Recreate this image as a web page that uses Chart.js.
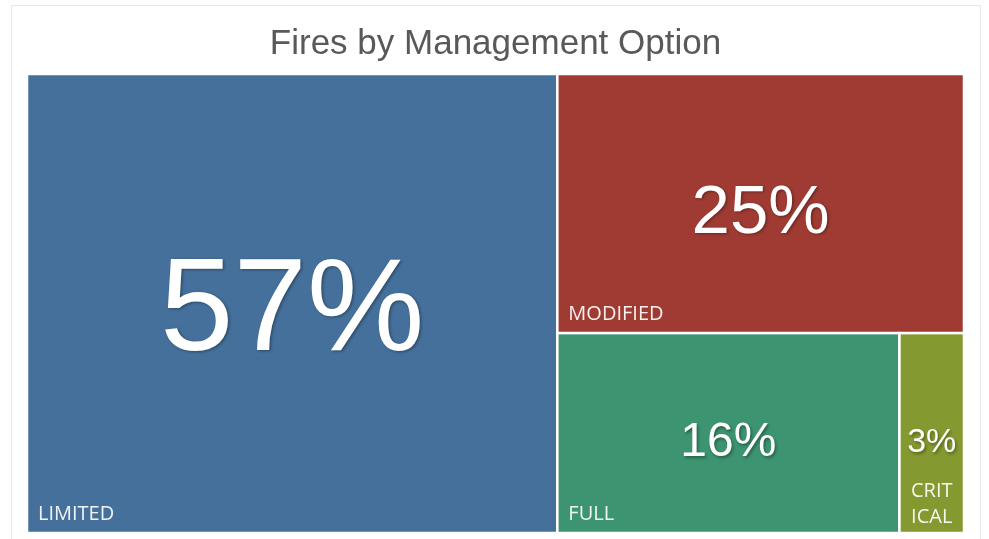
<!DOCTYPE html>
<html>
<head>
<meta charset="utf-8">
<script src="https://cdn.jsdelivr.net/npm/chart.js@4/dist/chart.umd.min.js"></script>
<style>
  html, body { margin: 0; padding: 0; background: #ffffff; }
  #wrap { width: 989px; height: 539px; position: relative; }
</style>
</head>
<body>
<div id="wrap"><canvas id="c" width="989" height="539"></canvas></div>
<script>
// ---- data ----
const chartTitle = 'Fires by Management Option';
const categories = ['LIMITED', 'MODIFIED', 'FULL', 'CRITICAL'];
const shares = [56.6, 24.5, 15.9, 3.0];          // share of fires, %
// ---- styles ----
const cellColors = ['#44709b', '#a03b33', '#3d9471', '#84992f'];
const pctFontSizes = [132, 69, 48, 34];

function worst(row, s) {
  let sum = 0, mx = -Infinity, mn = Infinity;
  row.forEach(r => { sum += r.a; mx = Math.max(mx, r.a); mn = Math.min(mn, r.a); });
  return Math.max(s * s * mx / (sum * sum), (sum * sum) / (s * s * mn));
}

function squarify(values, W, H) {
  const total = values.reduce((a, b) => a + b, 0);
  let items = values.map((v, i) => ({ i, a: v * W * H / total }));
  let x = 0, y = 0, w = W, h = H;
  const out = [];
  while (items.length) {
    const s = Math.min(w, h);
    let row = [items[0]];
    let k = 1;
    while (k < items.length && worst(row.concat([items[k]]), s) <= worst(row, s)) {
      row.push(items[k]); k++;
    }
    items = items.slice(k);
    const rowArea = row.reduce((a, r) => a + r.a, 0);
    if (w >= h) {
      const cw = rowArea / h;
      let yy = y;
      row.forEach(r => { const ch = r.a / cw; out[r.i] = { x0: x, y0: yy, x1: x + cw, y1: yy + ch }; yy += ch; });
      x += cw; w -= cw;
    } else {
      const rh = rowArea / w;
      let xx = x;
      row.forEach(r => { const cw = r.a / rh; out[r.i] = { x0: xx, y0: y, x1: xx + cw, y1: y + rh }; xx += cw; });
      y += rh; h -= rh;
    }
  }
  // normalise to 0..1 data units
  return out.map(r => ({ x0: r.x0 / W, y0: r.y0 / H, x1: r.x1 / W, y1: r.y1 / H }));
}

const framePlugin = {
  id: 'frame',
  beforeDraw(chart) {
    const ctx = chart.ctx;
    ctx.save();
    ctx.fillStyle = '#ffffff';
    ctx.fillRect(0, 0, chart.width, chart.height);
    ctx.strokeStyle = '#e6e6e6';
    ctx.lineWidth = 1;
    ctx.strokeRect(11.5, 5.5, 969, 545);
    ctx.restore();
  }
};

const treemapPlugin = {
  id: 'treemapCells',
  afterDatasetsDraw(chart) {
    const ctx = chart.ctx;
    const xs = chart.scales.x, ys = chart.scales.y;
    const area = chart.chartArea;
    const rects = squarify(shares, area.right - area.left, area.bottom - area.top);
    ctx.save();
    rects.forEach((r, i) => {
      const L = xs.getPixelForValue(r.x0), R = xs.getPixelForValue(r.x1);
      const T = ys.getPixelForValue(r.y0), B = ys.getPixelForValue(r.y1);
      ctx.fillStyle = cellColors[i];
      ctx.fillRect(L, T, R - L, B - T);
      ctx.strokeStyle = '#ffffff';
      ctx.lineWidth = 2.5;
      ctx.strokeRect(L, T, R - L, B - T);
    });
    rects.forEach((r, i) => {
      const L = xs.getPixelForValue(r.x0), R = xs.getPixelForValue(r.x1);
      const T = ys.getPixelForValue(r.y0), B = ys.getPixelForValue(r.y1);
      const cx = (L + R) / 2, cy = (T + B) / 2;
      const w = R - L;
      // percentage
      ctx.save();
      ctx.font = pctFontSizes[i] + 'px "Liberation Sans", Arial, sans-serif';
      ctx.textAlign = 'center';
      ctx.textBaseline = 'middle';
      ctx.fillStyle = '#ffffff';
      ctx.shadowColor = 'rgba(0,0,0,0.35)';
      ctx.shadowBlur = 3;
      ctx.shadowOffsetX = 1.5;
      ctx.shadowOffsetY = 1.5;
      ctx.fillText(Math.round(shares[i]) + '%', cx, cy + 10);
      ctx.restore();
      // category label
      ctx.save();
      ctx.font = '20px "Open Sans", sans-serif';
      ctx.fillStyle = 'rgba(255,255,255,0.92)';
      ctx.textBaseline = 'middle';
      const name = categories[i];
      const tw = ctx.measureText(name).width;
      if (tw < w - 20) {
        ctx.textAlign = 'left';
        ctx.fillText(name, L + 11, B - 19);
      } else {
        // wrap into equal chunks that fit the cell
        const n = Math.ceil(tw / (w - 14));
        const size = Math.ceil(name.length / n);
        const lines = [];
        for (let p = 0; p < name.length; p += size) lines.push(name.slice(p, p + size));
        ctx.textAlign = 'center';
        lines.forEach((ln, j) => {
          ctx.fillText(ln, cx, B - 16 - (lines.length - 1 - j) * 26);
        });
      }
      ctx.restore();
    });
    ctx.restore();
  }
};

new Chart(document.getElementById('c'), {
  type: 'scatter',
  data: { datasets: [{ label: 'cells', data: [] }] },
  options: {
    responsive: false,
    animation: false,
    layout: { padding: { left: 27, right: 25, top: 0, bottom: 6 } },
    scales: {
      x: { type: 'linear', min: 0, max: 1, display: false },
      y: { type: 'linear', min: 0, max: 1, reverse: true, display: false }
    },
    plugins: {
      legend: { display: false },
      tooltip: { enabled: false },
      title: {
        display: true,
        text: chartTitle,
        color: '#595959',
        font: { family: '"Liberation Sans", Arial, sans-serif', size: 35, weight: 'normal', lineHeight: 1.2 },
        padding: { top: 23, bottom: 9 }
      }
    }
  },
  plugins: [framePlugin, treemapPlugin]
});
</script>
</body>
</html>
